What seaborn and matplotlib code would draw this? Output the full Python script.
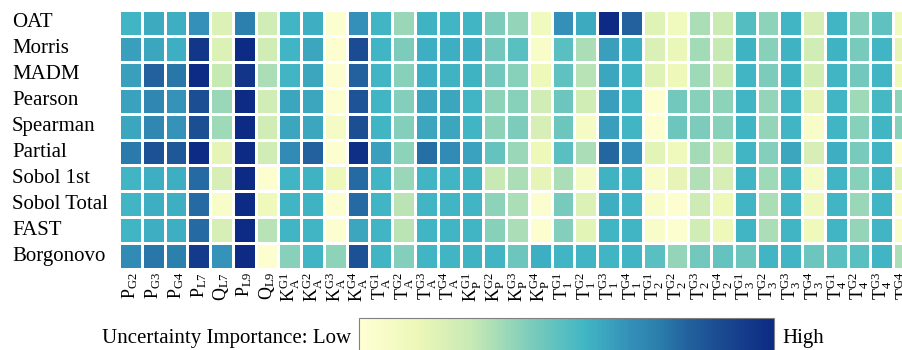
import numpy as np
import pandas as pd
import matplotlib
matplotlib.use("Agg")
import matplotlib.pyplot as plt
from matplotlib.colors import LinearSegmentedColormap
import seaborn as sns

# row and column labels
methods = ["OAT", "Morris", "MADM", "Pearson", "Spearman", "Partial",
           "Sobol 1st", "Sobol Total", "FAST", "Borgonovo"]
params = [r"$\mathrm{P_{G2}}$", r"$\mathrm{P_{G3}}$", r"$\mathrm{P_{G4}}$",
          r"$\mathrm{P_{L7}}$", r"$\mathrm{Q_{L7}}$", r"$\mathrm{P_{L9}}$",
          r"$\mathrm{Q_{L9}}$"]
for name, sub in [("K", "A"), ("T", "A"), ("K", "P"), ("T", "1"),
                  ("T", "2"), ("T", "3"), ("T", "4")]:
    for g in range(1, 5):
        params.append(r"$\mathrm{%s_{%s}^{G%d}}$" % (name, sub, g))

# importance values, one list per method
oat = [0.50, 0.53, 0.52, 0.60, 0.18, 0.66, 0.22, 0.50, 0.52, 0.02, 0.60, 0.50, 0.33, 0.51, 0.50,
       0.50, 0.38, 0.34, 0.10, 0.60, 0.53, 0.92, 0.73, 0.17, 0.10, 0.30, 0.24, 0.46, 0.35, 0.50,
       0.20, 0.50, 0.37, 0.44, 0.10]
morris = [0.56, 0.54, 0.52, 0.87, 0.18, 0.92, 0.22, 0.50, 0.54, 0.02, 0.80, 0.50, 0.38, 0.52, 0.52,
          0.52, 0.40, 0.45, 0.05, 0.45, 0.30, 0.56, 0.52, 0.19, 0.14, 0.31, 0.25, 0.51, 0.36, 0.51,
          0.22, 0.51, 0.39, 0.50, 0.15]
madm = [0.56, 0.73, 0.68, 0.92, 0.25, 0.88, 0.30, 0.50, 0.54, 0.02, 0.73, 0.50, 0.36, 0.52, 0.51,
        0.51, 0.40, 0.36, 0.12, 0.44, 0.28, 0.54, 0.50, 0.17, 0.12, 0.32, 0.25, 0.50, 0.38, 0.51,
        0.21, 0.50, 0.40, 0.50, 0.12]
pearson = [0.55, 0.63, 0.59, 0.79, 0.33, 0.92, 0.22, 0.54, 0.54, 0.02, 0.77, 0.50, 0.37, 0.54, 0.54,
           0.50, 0.35, 0.36, 0.22, 0.41, 0.22, 0.56, 0.50, 0.02, 0.40, 0.36, 0.35, 0.50, 0.34, 0.50,
           0.15, 0.50, 0.32, 0.49, 0.35]
spearman = [0.54, 0.63, 0.59, 0.79, 0.32, 0.92, 0.22, 0.54, 0.54, 0.07, 0.79, 0.50, 0.37, 0.54, 0.54,
            0.50, 0.35, 0.38, 0.20, 0.41, 0.07, 0.56, 0.50, 0.02, 0.41, 0.38, 0.36, 0.50, 0.34, 0.50,
            0.05, 0.50, 0.36, 0.50, 0.36]
partial = [0.67, 0.78, 0.76, 0.92, 0.15, 0.92, 0.22, 0.62, 0.73, 0.02, 0.90, 0.56, 0.35, 0.70, 0.62,
           0.55, 0.43, 0.33, 0.12, 0.45, 0.30, 0.72, 0.60, 0.16, 0.11, 0.31, 0.25, 0.50, 0.37, 0.54,
           0.20, 0.52, 0.39, 0.50, 0.02]
sobol1 = [0.50, 0.52, 0.52, 0.71, 0.20, 0.92, 0.02, 0.50, 0.51, 0.12, 0.71, 0.50, 0.33, 0.50, 0.50,
          0.51, 0.25, 0.30, 0.15, 0.30, 0.07, 0.51, 0.50, 0.05, 0.15, 0.29, 0.20, 0.50, 0.32, 0.50,
          0.07, 0.50, 0.36, 0.50, 0.16]
sobol_t = [0.50, 0.52, 0.52, 0.71, 0.05, 0.92, 0.11, 0.50, 0.51, 0.02, 0.71, 0.50, 0.27, 0.50, 0.50,
           0.50, 0.35, 0.30, 0.03, 0.39, 0.18, 0.52, 0.50, 0.05, 0.02, 0.23, 0.12, 0.50, 0.30, 0.50,
           0.11, 0.50, 0.33, 0.50, 0.05]
fast = [0.50, 0.52, 0.52, 0.71, 0.20, 0.92, 0.28, 0.50, 0.50, 0.02, 0.54, 0.50, 0.27, 0.50, 0.50,
        0.50, 0.36, 0.30, 0.02, 0.37, 0.16, 0.50, 0.50, 0.05, 0.02, 0.22, 0.12, 0.50, 0.30, 0.50,
        0.11, 0.50, 0.34, 0.50, 0.05]
borgonovo = [0.62, 0.68, 0.66, 0.86, 0.59, 0.92, 0.02, 0.36, 0.50, 0.35, 0.78, 0.50, 0.37, 0.50, 0.50,
             0.51, 0.50, 0.41, 0.52, 0.50, 0.50, 0.50, 0.50, 0.45, 0.34, 0.40, 0.43, 0.41, 0.50, 0.50,
             0.41, 0.45, 0.45, 0.50, 0.30]

df = pd.DataFrame([oat, morris, madm, pearson, spearman, partial,
                   sobol1, sobol_t, fast, borgonovo], index=methods, columns=params)

plt.rcParams["font.family"] = ["Liberation Serif", "DejaVu Serif"]
plt.rcParams["mathtext.fontset"] = "custom"
plt.rcParams["mathtext.rm"] = "Liberation Serif"
plt.rcParams["mathtext.it"] = "Liberation Serif:italic"

# muted YlGnBu-like ramp ending in deep navy
top = 0.92
stops = [(0.00, "#ffffd4"), (0.125, "#edf8b8"), (0.25, "#c7e9b4"), (0.375, "#7fcdbb"),
         (0.50, "#41b6c4"), (0.60, "#3490b8"), (0.66, "#2c80ad"), (0.73, "#22629e"),
         (0.80, "#1b4b92"), (0.92, "#0d2a84")]
cmap = LinearSegmentedColormap.from_list("ylgnbu_muted", [(p / top, c) for p, c in stops])

fig = plt.figure(figsize=(9.03, 3.5), dpi=100)
ax = fig.add_axes([119 / 903, 1 - 269 / 350, 797 / 903, 259 / 350])
cax = fig.add_axes([359 / 903, -10 / 350, 415 / 903, 42 / 350])

sns.heatmap(df, ax=ax, cmap=cmap, vmin=0, vmax=top, linewidths=1, linecolor="white",
            cbar_ax=cax, cbar_kws={"orientation": "horizontal"})

ax.tick_params(axis="both", length=0)
ax.set_yticklabels(methods, rotation=0, fontsize=15, ha="left")
ax.set_xticklabels(params, rotation=90, fontsize=13)
ax.tick_params(axis="x", pad=2)
ax.tick_params(axis="y", pad=77)

cbar = ax.collections[0].colorbar
cbar.set_ticks([])
cbar.outline.set_edgecolor("gray")
cbar.outline.set_linewidth(0.8)
fig.text(351 / 903, 1 - 338 / 350, "Uncertainty Importance: Low", ha="right", va="center", fontsize=15)
fig.text(782 / 903, 1 - 338 / 350, "High", ha="left", va="center", fontsize=15)

fig.savefig("out.png", dpi=100)
